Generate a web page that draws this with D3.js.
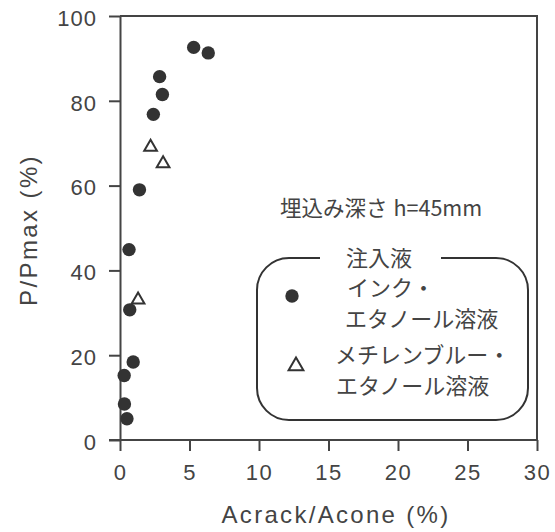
<!DOCTYPE html>
<html>
<head>
<meta charset="utf-8">
<script src="https://cdn.jsdelivr.net/npm/d3@7"></script>
<style>
  body { margin: 0; background: #fff; }
  svg { display: block; }
  .tick text { font-family: "Liberation Sans", Arial, sans-serif; }
</style>
</head>
<body>
<svg id="chart" width="555" height="532"></svg>
<script>
// data
const inkX = [5.3, 6.35, 2.85, 3.05, 2.4, 1.4, 0.65, 0.7, 0.95, 0.3, 0.32, 0.5];
const inkY = [92.6, 91.3, 85.7, 81.5, 76.8, 59.0, 44.9, 30.7, 18.4, 15.2, 8.5, 5.0];
const blueX = [2.2, 3.1, 1.3];
const blueY = [69.3, 65.4, 33.3];

const xTicks = [0, 5, 10, 15, 20, 25, 30];
const yTicks = [0, 20, 40, 60, 80, 100];

const note = "埋込み深さ";
const noteUnit = "h=45mm";
const legendTitle = "注入液";
const legendInk = ["インク・", "エタノール溶液"];
const legendBlue = ["メチレンブルー・", "エタノール溶液"];

const ink = "#333";
const textCol = "#444";
const cjk = '"Noto Sans CJK JP", sans-serif';
const latin = '"Liberation Sans", Arial, sans-serif';

const svg = d3.select("#chart");
const margin = {top: 16, right: 18, bottom: 92, left: 120};
const W = 555, H = 532;

const x = d3.scaleLinear().domain([0, 30]).range([margin.left, W - margin.right]);
const y = d3.scaleLinear().domain([0, 100]).range([H - margin.bottom, margin.top]);

// axes
const xAxis = svg.append("g")
    .attr("transform", `translate(0,${y(0)})`)
    .call(d3.axisBottom(x).tickValues(xTicks).tickSize(11).tickSizeOuter(0).tickPadding(0));
xAxis.selectAll(".tick text")
    .attr("y", 40).attr("dy", 0)
    .attr("font-size", 22).attr("letter-spacing", 1.5)
    .attr("fill", textCol);

const yAxis = svg.append("g")
    .attr("transform", `translate(${x(0)},0)`)
    .call(d3.axisLeft(y).tickValues(yTicks).tickSize(11).tickSizeOuter(0).tickPadding(0));
yAxis.selectAll(".tick text")
    .attr("x", -23).attr("dy", "0.42em")
    .attr("font-size", 22).attr("letter-spacing", 1)
    .attr("fill", textCol);

svg.selectAll(".domain, .tick line")
    .attr("stroke", "#444").attr("stroke-width", 2);
// x domain runs a bit left like the y=0 tick
xAxis.select(".domain").attr("d", `M${x(0) - 11},0H${x(30)}`);

// top and right frame
svg.append("path")
    .attr("d", `M${x(0)},${y(100)}H${x(30)}V${y(0)}`)
    .attr("fill", "none").attr("stroke", "#444").attr("stroke-width", 2);

// axis titles
svg.append("text")
    .attr("x", 336).attr("y", 523)
    .attr("text-anchor", "middle")
    .attr("font-family", latin).attr("font-size", 24).attr("letter-spacing", 2.3)
    .attr("fill", textCol)
    .text("Acrack/Acone (%)");

svg.append("text")
    .attr("transform", "translate(37,230) rotate(-90)")
    .attr("text-anchor", "middle")
    .attr("font-family", latin).attr("font-size", 24).attr("letter-spacing", 2.4)
    .attr("fill", textCol)
    .text("P/Pmax (%)");

// data points
const tri = d3.symbol().type(d3.symbolTriangle).size(70);

svg.append("g").selectAll("circle")
    .data(d3.zip(inkX, inkY))
    .enter()
    .append("circle")
    .attr("cx", d => x(d[0]))
    .attr("cy", d => y(d[1]))
    .attr("r", 6.7)
    .attr("fill", ink);

svg.append("g").selectAll("path")
    .data(d3.zip(blueX, blueY))
    .enter()
    .append("path")
    .attr("d", tri)
    .attr("transform", d => `translate(${x(d[0])},${y(d[1]) + 1})`)
    .attr("fill", "#fff")
    .attr("stroke", ink)
    .attr("stroke-width", 2);

// note
const noteText = svg.append("text")
    .attr("x", 280).attr("y", 216)
    .attr("font-family", cjk).attr("font-size", 21.5)
    .attr("fill", textCol);
noteText.append("tspan").text(note);
noteText.append("tspan").attr("dx", 6).attr("font-size", 21.5).text(noteUnit);

// legend box (rounded, gap for the title)
const bx0 = 257, bx1 = 528, by0 = 258, by1 = 420, r = 32;
const gapL = 320, gapR = 441;
svg.append("path")
    .attr("d", `M${gapL},${by0}H${bx0 + r}A${r},${r} 0 0 0 ${bx0},${by0 + r}` +
               `V${by1 - r}A${r},${r} 0 0 0 ${bx0 + r},${by1}` +
               `H${bx1 - r}A${r},${r} 0 0 0 ${bx1},${by1 - r}` +
               `V${by0 + r}A${r},${r} 0 0 0 ${bx1 - r},${by0}H${gapR}`)
    .attr("fill", "none").attr("stroke", ink).attr("stroke-width", 2);

svg.append("text")
    .attr("x", 379).attr("y", 266)
    .attr("text-anchor", "middle")
    .attr("font-family", cjk).attr("font-size", 22)
    .attr("fill", textCol)
    .text(legendTitle);

svg.append("circle")
    .attr("cx", 292).attr("cy", 296).attr("r", 6.7)
    .attr("fill", ink);

svg.append("path")
    .attr("d", d3.symbol().type(d3.symbolTriangle).size(95))
    .attr("transform", "translate(296,366)")
    .attr("fill", "#fff").attr("stroke", ink).attr("stroke-width", 2);

const legendLines = [
    [legendInk[0], 347, 296],
    [legendInk[1], 345, 327],
    [legendBlue[0], 335, 363],
    [legendBlue[1], 336, 394]
];
svg.append("g").selectAll("text")
    .data(legendLines)
    .enter()
    .append("text")
    .attr("x", d => d[1])
    .attr("y", d => d[2])
    .attr("font-family", cjk).attr("font-size", 22)
    .attr("fill", textCol)
    .text(d => d[0]);
</script>
</body>
</html>
